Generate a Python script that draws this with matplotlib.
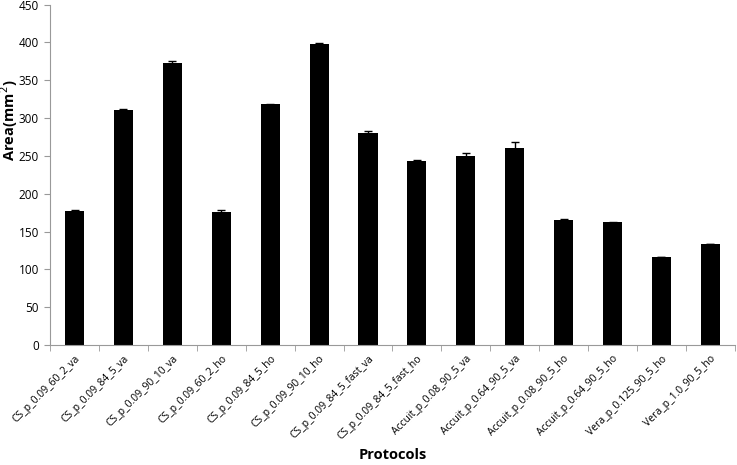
import matplotlib.pyplot as plt
import numpy as np

# protokol isimleri ve ölçülen alanlar
protocols = ["CS_p_0.09_60_2_va", "CS_p_0.09_84_5_va", "CS_p_0.09_90_10_va",
             "CS_p_0.09_60_2_ho", "CS_p_0.09_84_5_ho", "CS_p_0.09_90_10_ho",
             "CS_p_0.09_84_5_fast_va", "CS_p_0.09_84_5_fast_ho",
             "Accuit_p_0.08_90_5_va", "Accuit_p_0.64_90_5_va",
             "Accuit_p_0.08_90_5_ho", "Accuit_p_0.64_90_5_ho",
             "Vera_p_0.125_90_5_ho", "Vera_p_1.0_90_5_ho"]
area = [177, 311, 373, 176, 318, 398, 280, 243, 250, 260, 165, 162, 117, 133]
err = [1, 1, 2, 2, 1, 1, 3.5, 1.5, 4, 9, 1, 0.5, 0, 0]

plt.rcParams['font.family'] = ['Open Sans', 'DejaVu Sans']

fig = plt.figure(figsize=(7.37, 4.65), dpi=100)
ax = fig.add_axes([0.068, 0.258, 0.929, 0.732])

x = np.arange(len(protocols))
ax.bar(x, area, width=0.39, color="black", yerr=err, capsize=3,
       error_kw=dict(ecolor="black", elinewidth=1, capthick=1))

ax.set_xlim(-0.5, len(protocols) - 0.5)
ax.set_ylim(0, 450)
ax.set_yticks(np.arange(0, 451, 50))

# etiketler merkezde, tick çizgileri kategori sınırlarında
ax.set_xticks(x)
ax.set_xticklabels(protocols, rotation=45, ha="right", rotation_mode="anchor", fontsize=7.5)
ax.tick_params(axis="x", which="major", length=0, pad=6)
ax.set_xticks(np.arange(-0.5, len(protocols), 1), minor=True)
ax.tick_params(axis="x", which="minor", length=4, color="#999999", direction="out")
ax.tick_params(axis="y", length=4, color="#999999", labelsize=8.5, pad=4)

for s in ["top", "right"]:
    ax.spines[s].set_visible(False)
for s in ["left", "bottom"]:
    ax.spines[s].set_color("#999999")

# y ekseni başlığı excel'deki gibi biraz yukarıda duruyor
ax.set_ylabel("Area(mm$^2$)", fontsize=10.5, fontweight="bold", va="center")
ax.yaxis.set_label_coords(9.5 / 737, 1 - 120 / 465, transform=fig.transFigure)
ax.set_xlabel("Protocols", fontsize=10.5, fontweight="bold", labelpad=4)

fig.savefig("out.png", dpi=100)
